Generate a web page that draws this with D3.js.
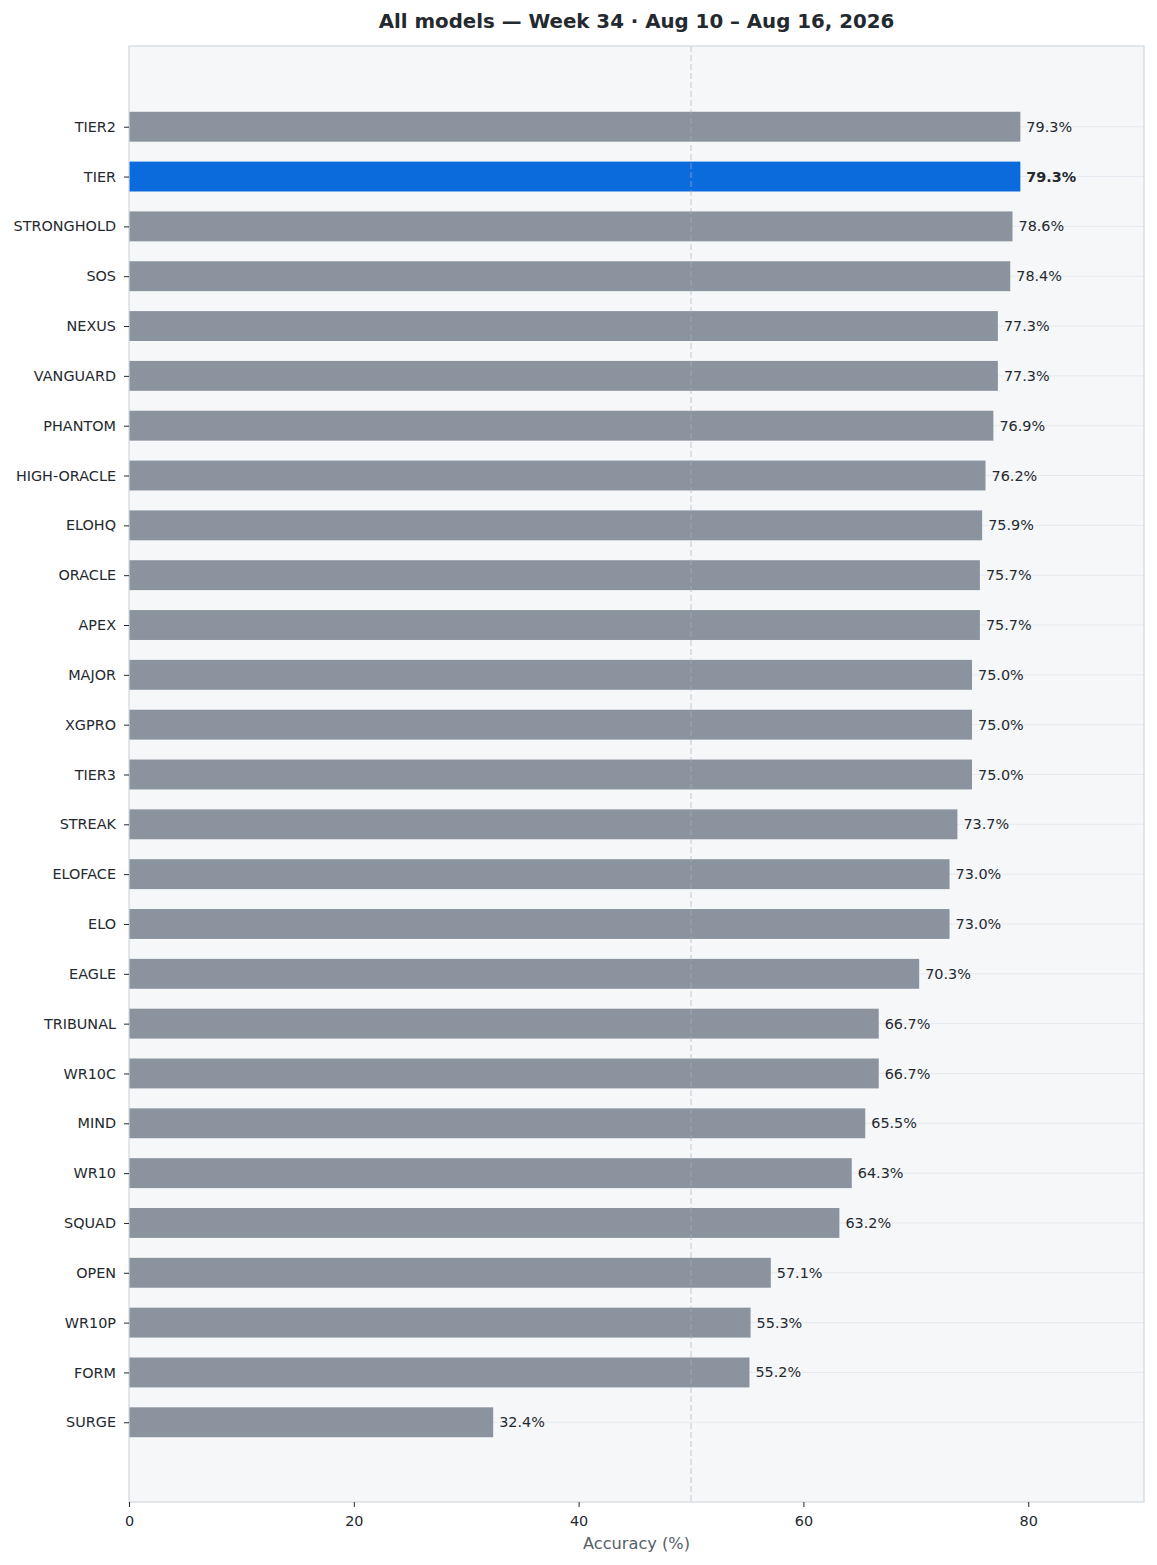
<!DOCTYPE html>
<html><head><meta charset="utf-8">
<script src="https://cdn.jsdelivr.net/npm/d3@7"></script>
<style>body{margin:0;background:#fff;font-family:"DejaVu Sans",sans-serif;}</style>
</head><body><svg id="c" width="1157" height="1565"></svg>
<script>
const models = ["TIER2","TIER","STRONGHOLD","SOS","NEXUS","VANGUARD","PHANTOM","HIGH-ORACLE","ELOHQ","ORACLE","APEX","MAJOR","XGPRO","TIER3","STREAK","ELOFACE","ELO","EAGLE","TRIBUNAL","WR10C","MIND","WR10","SQUAD","OPEN","WR10P","FORM","SURGE"];
const accuracy = [79.3,79.3,78.6,78.4,77.3,77.3,76.9,76.2,75.9,75.7,75.7,75.0,75.0,75.0,73.7,73.0,73.0,70.3,66.7,66.7,65.5,64.3,63.2,57.1,55.3,55.2,32.4];
const highlight = "TIER";
const xTicks = [0,20,40,60,80];
const refLine = 50;
const title = "All models — Week 34 · Aug 10 – Aug 16, 2026";
const xLabel = "Accuracy (%)";

const svg = d3.select("#c");
const L=129,R=1144,T=46,B=1502;
const x = d3.scaleLinear().domain([0,90.3]).range([L,R]);
const y = d3.scaleLinear().domain([-1.62, models.length-1+1.6]).range([T,B]);
const step = y(1)-y(0), bh = step*0.6;
const txt = "#24292f";
const fs = 14.4;

svg.append("rect").attr("x",L).attr("y",T).attr("width",R-L).attr("height",B-T).attr("fill","#f6f7f9");
svg.append("g").selectAll("line").data(models).join("line")
  .attr("x1",L).attr("x2",R).attr("y1",(d,i)=>y(i)).attr("y2",(d,i)=>y(i))
  .attr("stroke","#e6e9ee").attr("stroke-width",1);
svg.append("g").selectAll("rect").data(models).join("rect")
  .attr("x",x(0)).attr("y",(d,i)=>y(i)-bh/2).attr("height",bh)
  .attr("width",(d,i)=>x(accuracy[i])-x(0))
  .attr("fill",d=>d===highlight?"#0b6bdc":"#8b939e");
svg.append("line").attr("x1",x(refLine)).attr("x2",x(refLine)).attr("y1",T).attr("y2",B)
  .attr("stroke","#a8b4c0").attr("stroke-opacity",0.5).attr("stroke-width",1.3).attr("stroke-dasharray","6,3");
svg.append("g").selectAll("text").data(models).join("text")
  .attr("x",(d,i)=>x(accuracy[i])+6).attr("y",(d,i)=>y(i)).attr("dy","0.35em")
  .attr("font-size",fs).attr("fill",txt)
  .attr("font-weight",d=>d===highlight?"bold":"normal")
  .text((d,i)=>accuracy[i].toFixed(1)+"%");
svg.append("rect").attr("x",L).attr("y",T).attr("width",R-L).attr("height",B-T)
  .attr("fill","none").attr("stroke","#d0d7de").attr("stroke-width",1.2);
const ya = svg.append("g").attr("transform",`translate(${L},0)`)
  .call(d3.axisLeft(d3.scaleOrdinal().domain(models).range(models.map((d,i)=>y(i)))).tickSize(5).tickPadding(8));
ya.select(".domain").remove();
ya.selectAll("line").attr("stroke",txt);
ya.selectAll("text").attr("font-size",fs).attr("fill",txt).attr("font-family","DejaVu Sans");
const xa = svg.append("g").attr("transform",`translate(0,${B})`)
  .call(d3.axisBottom(x).tickValues(xTicks).tickSize(5).tickPadding(9).tickFormat(d3.format("d")));
xa.select(".domain").remove();
xa.selectAll("line").attr("stroke",txt);
xa.selectAll("text").attr("font-size",fs).attr("fill",txt).attr("font-family","DejaVu Sans");
svg.append("text").attr("x",(L+R)/2).attr("y",1549).attr("text-anchor","middle")
  .attr("font-size",16.2).attr("fill","#57606a").text(xLabel);
svg.append("text").attr("x",(L+R)/2).attr("y",28).attr("text-anchor","middle")
  .attr("font-size",19.8).attr("font-weight","bold").attr("fill",txt).text(title);
</script></body></html>
